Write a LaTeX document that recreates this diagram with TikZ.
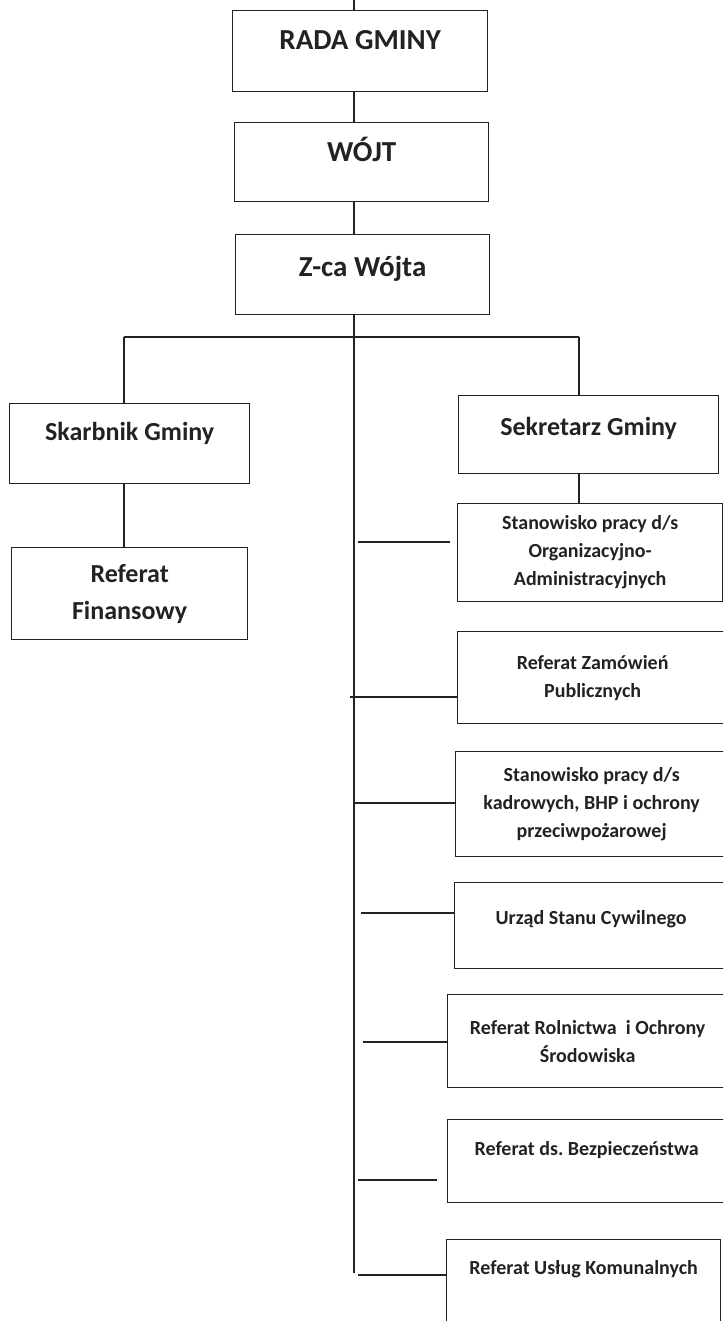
\documentclass[tikz,border=0pt]{standalone}
\usepackage{fontspec}
\setmainfont{Carlito}
\usetikzlibrary{positioning}
\definecolor{ink}{HTML}{222222}

\begin{document}
\begin{tikzpicture}[x=1pt,y=-1pt,line width=1.3pt,draw=ink,
	box/.style={draw,anchor=north west,inner xsep=0pt,inner ysep=0pt,text=ink,align=center},
	head/.style={font=\fontsize{29}{37}\selectfont\bfseries},
	big/.style={font=\fontsize{26}{37}\selectfont\bfseries},
	small/.style={font=\fontsize{20}{28}\selectfont\bfseries},
	link/.style={draw=ink}]
	\useasboundingbox (0,0) rectangle (723,1321);
	\clip (0,0) rectangle (723,1321);
	% upper chain
	\node[box,head,minimum width=255pt,text height=39.3pt,text depth=41.7pt] (rada) at (232,10) {RADA GMINY};
	\node[box,head,minimum width=254pt,text height=39.3pt,text depth=39.7pt] (wojt) at (234,122) {WÓJT};
	\node[box,head,minimum width=254pt,text height=42.3pt,text depth=37.7pt] (zca) at (235,234) {Z-ca Wójta};
	% left branch
	\node[box,big,minimum width=240pt,text height=37pt,text depth=43pt] (skarb) at (9,403) {Skarbnik Gminy};
	\node[box,big,minimum width=236pt,minimum height=92pt] (fin) at (11,547) {Referat\\Finansowy};
	% right branch
	\node[box,big,minimum width=260pt,text height=40pt,text depth=38pt] (sekr) at (458,395) {Sekretarz Gminy};
	\node[box,small,minimum width=265pt,minimum height=98pt] (org) at (457,503) {Stanowisko pracy d/s\\Organizacyjno-\\Administracyjnych};
	\node[box,small,minimum width=270pt,minimum height=92pt] (zam) at (457,631) {Referat Zamówień\\Publicznych};
	\node[box,small,minimum width=272pt,minimum height=105pt] (kadr) at (455,751) {Stanowisko pracy d/s\\kadrowych, BHP i ochrony\\przeciwpożarowej};
	\node[box,small,minimum width=273pt,text height=41.4pt,text depth=44.6pt] (usc) at (454,882) {Urząd Stanu Cywilnego};
	\node[box,small,minimum width=280pt,minimum height=93pt] (rol) at (447,994) {Referat Rolnictwa\ \ i Ochrony\\Środowiska};
	\node[box,small,minimum width=278pt,text height=35.4pt,text depth=47.6pt] (bezp) at (447,1119) {Referat ds.\ Bezpieczeństwa};
	\node[box,small,minimum width=274pt,text height=34.4pt,text depth=56.6pt] (uslug) at (446,1239) {Referat Usług Komunalnych};
	% trunk and bar
	\coordinate (top) at (354,0);
	\coordinate (end) at (354,1273);
	\coordinate (lft) at (124,337);
	\coordinate (rgt) at (579,337);
	\coordinate (b1) at (358,542);
	\coordinate (b2) at (350,697);
	\coordinate (b3) at (354,803);
	\coordinate (b4) at (361,913);
	\coordinate (b5) at (363,1042);
	\coordinate (b6) at (358,1180);
	\coordinate (b7) at (358,1275);
	\path[link]
	(top) edge (top |- rada.north)
	(rada.south -| top) edge (wojt.north -| top)
	(wojt.south -| top) edge (zca.north -| top)
	(zca.south -| top) edge (end)
	(lft) edge (rgt)
	(lft) edge (lft |- skarb.north)
	(skarb.south -| lft) edge (fin.north -| lft)
	(rgt) edge (rgt |- sekr.north)
	(sekr.south -| rgt) edge (org.north -| rgt)
	(b1) edge [shorten >=7pt] (b1 -| org.west)
	(b2) edge (b2 -| zam.west)
	(b3) edge (b3 -| kadr.west)
	(b4) edge (b4 -| usc.west)
	(b5) edge (b5 -| rol.west)
	(b6) edge [shorten >=10pt] (b6 -| bezp.west)
	(b7) edge (b7 -| uslug.west);
\end{tikzpicture}
\end{document}
